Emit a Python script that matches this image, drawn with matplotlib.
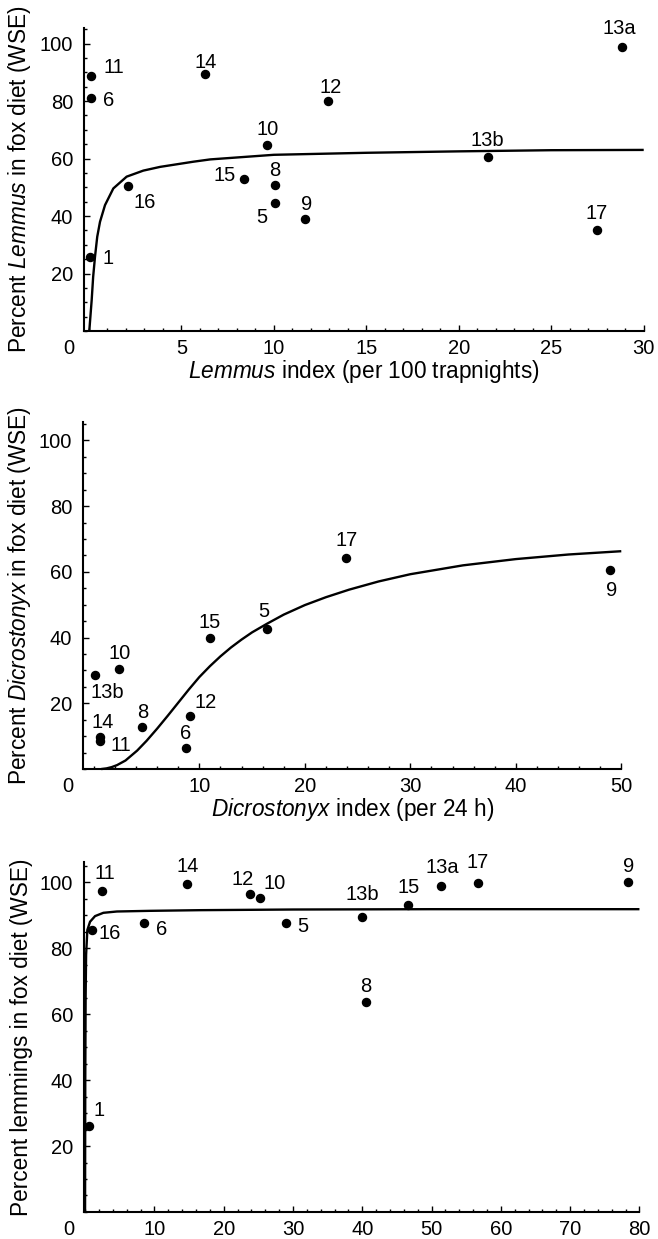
import matplotlib
matplotlib.use('Agg')
import matplotlib.pyplot as plt
from matplotlib.ticker import MultipleLocator, FixedLocator

plt.rcParams['font.family'] = ['Liberation Sans', 'DejaVu Sans']
plt.rcParams['mathtext.fontset'] = 'custom'
plt.rcParams['mathtext.rm'] = 'Liberation Sans'
plt.rcParams['mathtext.it'] = 'Liberation Sans:italic'

# --- top panel: Lemmus ---
lem_sites = ['1', '5', '6', '8', '9', '10', '11', '12', '13a', '13b', '14', '15', '16', '17']
lem_x = [0.05, 10.05, 0.13, 10.05, 11.7, 9.65, 0.13, 12.95, 28.8, 21.6, 6.3, 8.4, 2.1, 27.5]
lem_y = [25.8, 44.5, 81.0, 50.9, 38.9, 64.6, 88.7, 79.9, 98.7, 60.5, 89.5, 52.8, 50.5, 35.0]
lem_curve_x = [0.02, 0.15, 0.23, 0.33, 0.45, 0.6, 0.87, 1.32, 2.04, 2.94, 3.85, 5.65, 6.56, 10, 15, 20, 25, 30]
lem_curve_y = [0, 10.8, 18.9, 25.9, 32.8, 38.0, 43.8, 49.6, 53.7, 55.8, 57.1, 58.9, 59.7, 61.3, 62.0, 62.5, 62.9, 63.0]

# --- middle panel: Dicrostonyx ---
dic_sites = ['5', '6', '8', '9', '10', '11', '12', '13b', '14', '15', '17']
dic_x = [16.4, 8.7, 4.6, 48.95, 2.4, 0.55, 9.15, 0.08, 0.55, 11.0, 23.9]
dic_y = [42.6, 6.5, 12.7, 60.5, 30.4, 8.6, 16.2, 28.7, 9.8, 40.0, 64.2]
dic_curve_x = [0.7, 1.2, 1.7, 2.2, 3.0, 4.1, 5, 6, 7, 8, 9, 10, 11, 12, 13, 14, 15, 16.4, 18, 20,
               22, 24.2, 27, 30, 35, 40, 45, 50]
dic_curve_y = [0, 0.2, 0.6, 1.2, 2.6, 5.6, 8.6, 12.3, 16.2, 20.2, 24.2, 28.0, 31.3, 34.3, 37.0, 39.4,
               41.6, 44.2, 47.0, 49.9, 52.3, 54.6, 57.1, 59.3, 62.0, 63.9, 65.3, 66.3]

# --- bottom panel: all lemmings ---
all_sites = ['1', '5', '6', '8', '9', '10', '11', '12', '13a', '13b', '14', '15', '16', '17']
all_x = [0.62, 29.0, 8.5, 40.5, 78.4, 25.2, 2.4, 23.8, 51.4, 40.0, 14.7, 46.6, 0.97, 56.7]
all_y = [26.2, 87.5, 87.7, 63.8, 100.0, 95.1, 97.4, 96.3, 98.9, 89.3, 99.5, 93.1, 85.5, 99.8]
all_curve_x = [0.0, 0.03, 0.08, 0.15, 0.33, 0.72, 1.44, 2.64, 4.6, 9.4, 16.6, 30, 50, 80]
all_curve_y = [0, 40, 65, 78, 85.5, 88.0, 89.7, 90.7, 91.1, 91.3, 91.5, 91.7, 91.8, 91.8]

# label offsets (pixels) for each site
lem_off = {'1': (18, 0), '5': (-13, -12), '6': (17, 0), '8': (0, 16), '9': (1, 17), '10': (0, 18),
           '11': (23, 11), '12': (2, 16), '13a': (-2, 21), '13b': (-1, 19), '14': (0, 13),
           '15': (-20, 6), '16': (17, -15), '17': (-1, 19)}
dic_off = {'5': (-3, 20), '6': (0, 16), '8': (0, 17), '9': (1, -18), '10': (0, 18), '11': (21, -3),
           '12': (15, 15), '13b': (13, -16), '14': (3, 16), '15': (0, 17), '17': (1, 20)}
all_off = {'1': (10, 17), '5': (17, -1), '6': (18, -5), '8': (0, 17), '9': (0, 18), '10': (15, 17),
           '11': (3, 19), '12': (-7, 17), '13a': (1, 20), '13b': (0, 25), '14': (1, 19), '15': (1, 19),
           '16': (18, -2), '17': (0, 22)}

W, H = 658, 1239
fig = plt.figure(figsize=(W / 100, H / 100), dpi=100)

panels = [
    dict(rect=[0.1281, 0.7328, 0.8502, 0.2446], xlim=(-0.25, 30), ylim=(0, 105.4), xmaj=5, xmin=1,
         sites=lem_sites, x=lem_x, y=lem_y, cx=lem_curve_x, cy=lem_curve_y, off=lem_off,
         ylabel='Percent $\\it{Lemmus}$ in fox diet (WSE)', xlabel='$\\it{Lemmus}$ index (per 100 trapnights)'),
    dict(rect=[0.1266, 0.3793, 0.8176, 0.2803], xlim=(-1, 50), ylim=(0, 105.7), xmaj=10, xmin=2,
         sites=dic_sites, x=dic_x, y=dic_y, cx=dic_curve_x, cy=dic_curve_y, off=dic_off,
         ylabel='Percent $\\it{Dicrostonyx}$ in fox diet (WSE)', xlabel='$\\it{Dicrostonyx}$ index (per 24 h)'),
    dict(rect=[0.1277, 0.0218, 0.8441, 0.2822], xlim=(-0.15, 80), ylim=(0, 106), xmaj=10, xmin=2,
         sites=all_sites, x=all_x, y=all_y, cx=all_curve_x, cy=all_curve_y, off=all_off,
         ylabel='Percent lemmings in fox diet (WSE)', xlabel=None),
]

fs = 14.5
ylab_right = 33  # px from left edge of figure
for p in panels:
    ax = fig.add_axes(p['rect'])
    ax.plot(p['cx'], p['cy'], color='black', lw=1.7, solid_capstyle='butt', solid_joinstyle='round',
            clip_on=False)
    ax.plot(p['x'], p['y'], 'o', color='black', ms=5.8, clip_on=False)
    for s, xx, yy in zip(p['sites'], p['x'], p['y']):
        dx, dy = p['off'][s]
        ax.annotate(s, (xx, yy), xytext=(dx, dy), textcoords='offset pixels',
                    ha='center', va='center_baseline', fontsize=fs)
    ax.set_xlim(p['xlim'])
    ax.set_ylim(p['ylim'])
    for side in ['top', 'right']:
        ax.spines[side].set_visible(False)
    for side in ['left', 'bottom']:
        ax.spines[side].set_linewidth(1.5)
    xt = list(range(p['xmaj'], int(p['xlim'][1]) + 1, p['xmaj']))
    ax.xaxis.set_major_locator(FixedLocator(xt))
    ax.xaxis.set_minor_locator(MultipleLocator(p['xmin']))
    ax.yaxis.set_major_locator(FixedLocator([20, 40, 60, 80, 100]))
    ax.yaxis.set_minor_locator(MultipleLocator(5))
    ax.tick_params(which='both', direction='in', labelsize=fs, width=1.0)
    ax.tick_params(which='major', length=4)
    ax.tick_params(which='minor', length=2)
    ax.tick_params(axis='y', pad=8)
    ax.tick_params(axis='x', pad=6)
    ax.annotate('0', (0, 0), xycoords='axes fraction', xytext=(-11, -6), textcoords='offset points',
                ha='center', va='top', fontsize=fs)
    ax.set_ylabel(p['ylabel'], fontsize=16.3)
    left_px = p['rect'][0] * W
    width_px = p['rect'][2] * W
    ax.yaxis.set_label_coords((ylab_right - left_px) / width_px, 0.5)
    if p['xlabel']:
        ax.set_xlabel(p['xlabel'], fontsize=16.3, labelpad=0)

fig.savefig('out.png', dpi=100)
